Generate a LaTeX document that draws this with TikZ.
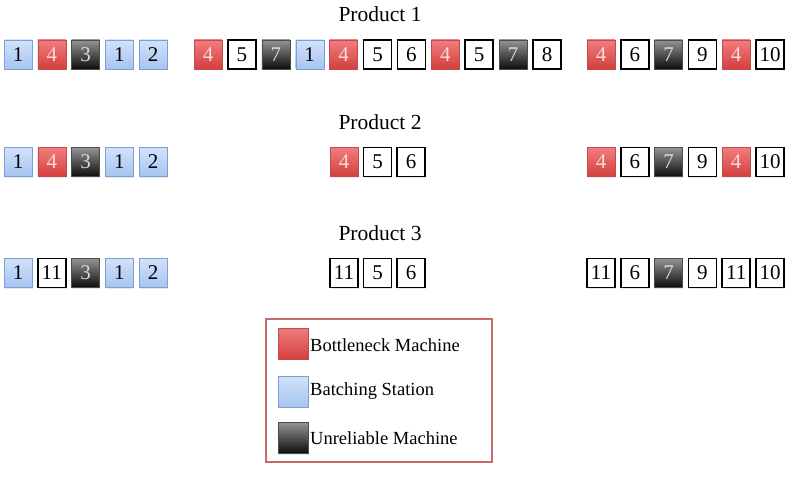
\documentclass[tikz,border=0pt]{standalone}
\usepackage{fontspec}
\setmainfont{Liberation Serif}
\usetikzlibrary{shadows}

\definecolor{redtop}{HTML}{F07E7E}
\definecolor{redbot}{HTML}{D43E3E}
\definecolor{bluetop}{HTML}{D2E2FA}
\definecolor{bluebot}{HTML}{A6C4F0}
\definecolor{blueedge}{HTML}{7B9FD8}
\definecolor{legendedge}{HTML}{C86A6A}

\begin{document}
\begin{tikzpicture}[x=1pt, y=-1pt,
    cell/.style={minimum width=28pt, minimum height=29pt, inner sep=0pt, font=\fontsize{21}{22}\selectfont,
        drop shadow={opacity=0.18, shadow xshift=0.8pt, shadow yshift=-1.2pt}},
    bneck/.style={cell, draw=redbot!80!gray, top color=redtop, bottom color=redbot, text=red!15},
    batch/.style={cell, draw=blueedge, top color=bluetop, bottom color=bluebot, text=black},
    unrel/.style={cell, draw=black!70, top color=black!42, bottom color=black!95, text=black!15},
    plain/.style={cell, draw=black, line width=1.6pt, fill=white, text=black},
    title/.style={font=\fontsize{21.5}{24}\selectfont},
    swatch/.style={minimum width=30pt, minimum height=31pt},
    legtext/.style={anchor=west, inner sep=0pt, font=\fontsize{18.5}{22}\selectfont}
]
\useasboundingbox (0,0) rectangle (786,478);

% product titles
\node[title] (t1) at (380,14) {Product 1};
\node[title] (t2) at (380,122) {Product 2};
\node[title] (t3) at (380,233) {Product 3};

% product 1
\foreach \lbl/\sty [count=\i] in {1/batch,4/bneck,3/unrel,1/batch,2/batch}
  \node[\sty] (p1a\i) at ({18+33.75*(\i-1)},54.5) {\lbl};
\foreach \lbl/\sty [count=\i] in {4/bneck,5/plain,7/unrel,1/batch,4/bneck,5/plain,6/plain,4/bneck,5/plain,7/unrel,8/plain}
  \node[\sty] (p1b\i) at ({208+33.9*(\i-1)},54.5) {\lbl};
\foreach \lbl/\sty [count=\i] in {4/bneck,6/plain,7/unrel,9/plain,4/bneck,10/plain}
  \node[\sty] (p1c\i) at ({601+33.8*(\i-1)},54.5) {\lbl};

% product 2
\foreach \lbl/\sty [count=\i] in {1/batch,4/bneck,3/unrel,1/batch,2/batch}
  \node[\sty] (p2a\i) at ({18+33.75*(\i-1)},162) {\lbl};
\foreach \lbl/\sty [count=\i] in {4/bneck,5/plain,6/plain}
  \node[\sty] (p2b\i) at ({344+33.5*(\i-1)},162) {\lbl};
\foreach \lbl/\sty [count=\i] in {4/bneck,6/plain,7/unrel,9/plain,4/bneck,10/plain}
  \node[\sty] (p2c\i) at ({601+33.8*(\i-1)},162) {\lbl};

% product 3
\foreach \lbl/\sty [count=\i] in {1/batch,11/plain,3/unrel,1/batch,2/batch}
  \node[\sty] (p3a\i) at ({18+33.75*(\i-1)},273) {\lbl};
\foreach \lbl/\sty [count=\i] in {11/plain,5/plain,6/plain}
  \node[\sty] (p3b\i) at ({344+33.5*(\i-1)},273) {\lbl};
\foreach \lbl/\sty [count=\i] in {11/plain,6/plain,7/unrel,9/plain,11/plain,10/plain}
  \node[\sty] (p3c\i) at ({601+33.8*(\i-1)},273) {\lbl};

% legend
\node[draw=legendedge, line width=1.1pt, minimum width=226pt, minimum height=143pt] (legend) at (379,390.5) {};
\node[bneck, swatch] (lg1) at (293,343.5) {};
\node[batch, swatch] (lg2) at (293,391.5) {};
\node[unrel, swatch] (lg3) at (293,438) {};
\node[legtext] (lt1) at (310,345) {Bottleneck Machine};
\node[legtext] (lt2) at (310,391.5) {Batching Station};
\node[legtext] (lt3) at (310,438) {Unreliable Machine};
\end{tikzpicture}
\end{document}
